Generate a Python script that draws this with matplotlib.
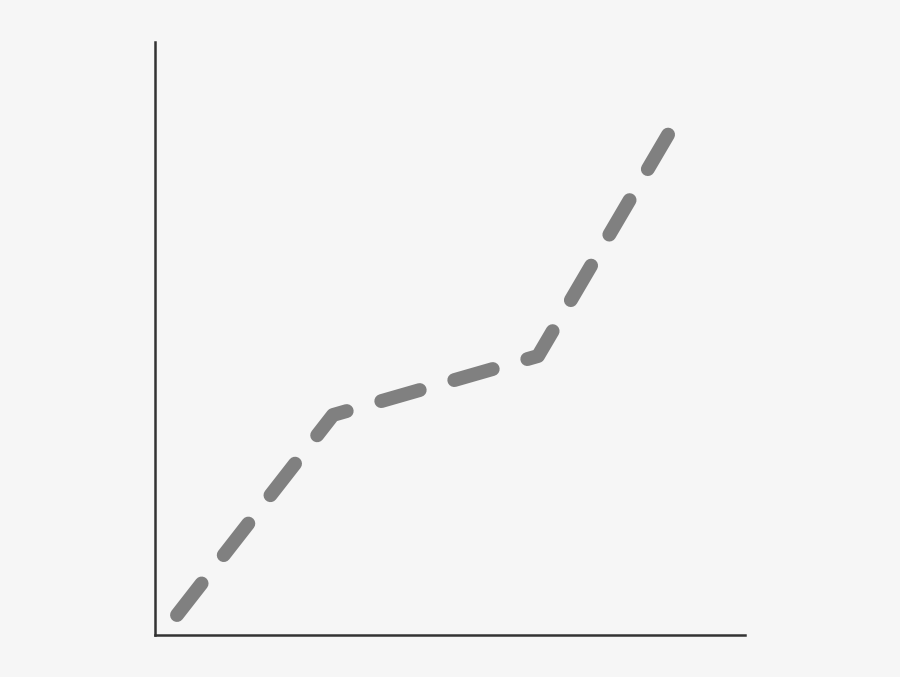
import matplotlib
matplotlib.use("Agg")
import matplotlib.pyplot as plt

plt.rcParams['lines.scale_dashes'] = False

# four points of the dashed line
x = [0.373, 3.017, 6.492, 8.712]
y = [0.337, 3.710, 4.705, 8.465]

fig = plt.figure(figsize=(9, 6.77), dpi=100, facecolor="#f6f6f6")
ax = fig.add_axes([155/900, 42/677, 590/900, 593/677])
ax.set_facecolor("#f6f6f6")

line, = ax.plot(x, y, color="#808080", linewidth=10, linestyle="--",
                dash_capstyle="round", dash_joinstyle="round")
line.set_dashes((28.8, 25.9))

ax.set_xlim(0, 10)
ax.set_ylim(0, 10)
ax.set_xticks([])
ax.set_yticks([])
for s in ["top", "right"]:
    ax.spines[s].set_visible(False)
for s in ["left", "bottom"]:
    ax.spines[s].set_color("#333333")
    ax.spines[s].set_linewidth(1.8)

fig.savefig("out.png", dpi=100, facecolor=fig.get_facecolor())
